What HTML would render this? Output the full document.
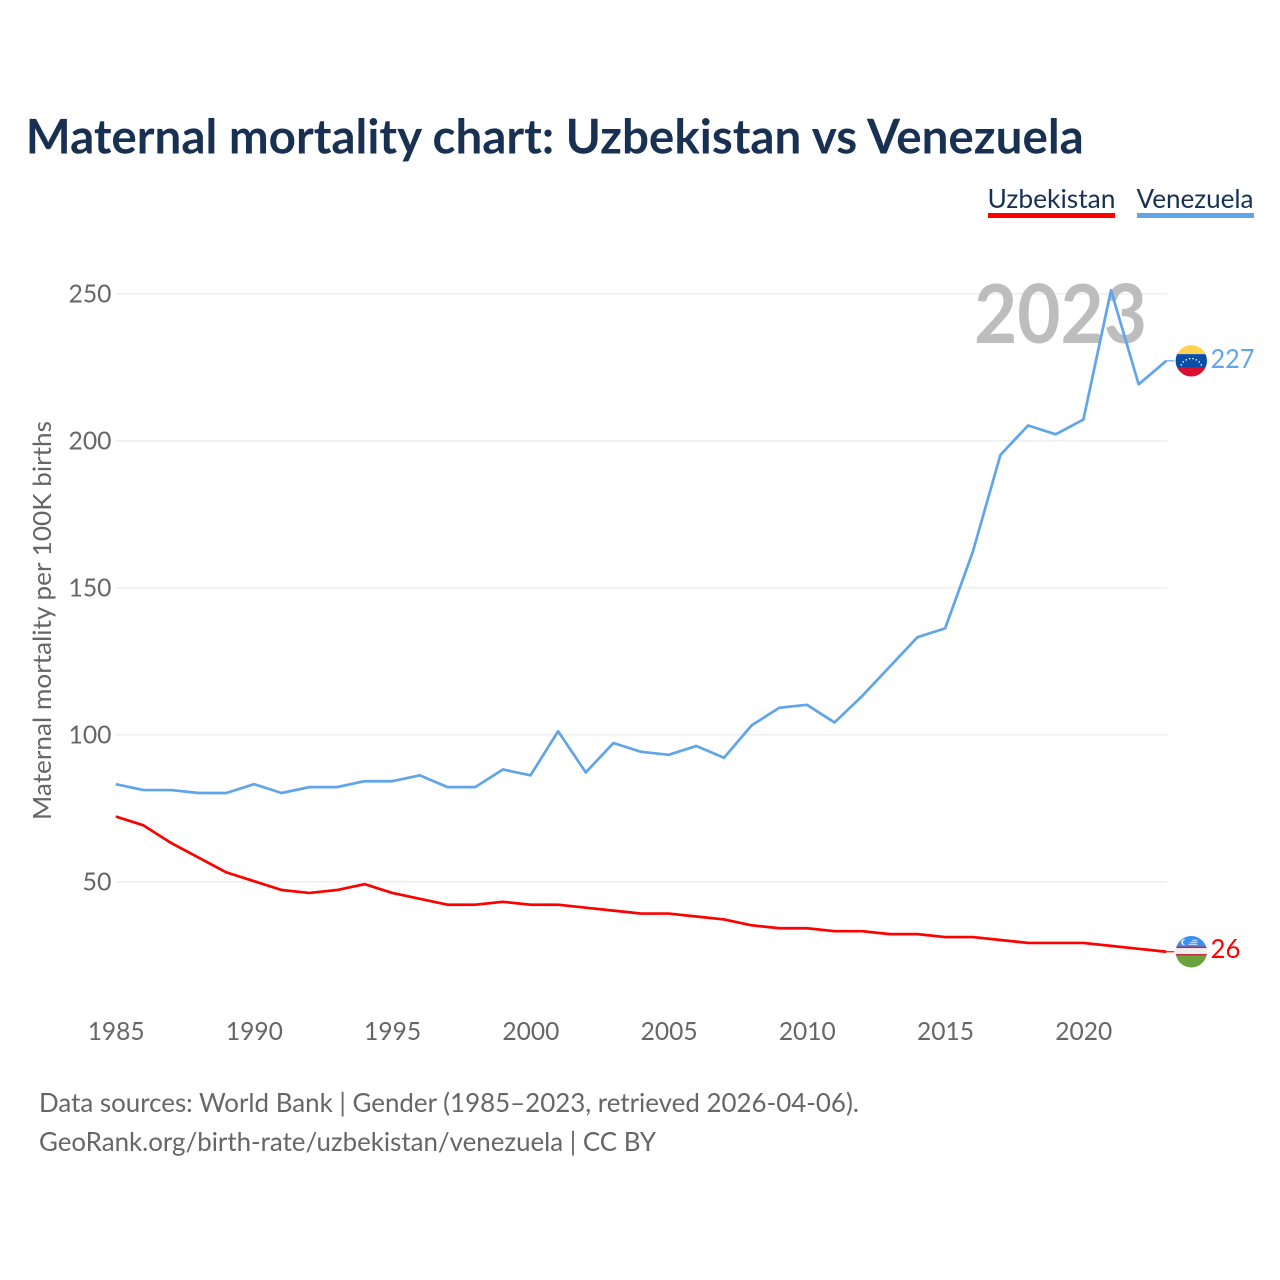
<!DOCTYPE html>
<html lang="en">
<head>
<meta charset="utf-8">
<title>Maternal mortality chart: Uzbekistan vs Venezuela</title>
<style>
html,body{margin:0;padding:0;background:#fff;}
svg{display:block;}
text{font-family:"Lato","Carlito","Liberation Sans",sans-serif;}
</style>
</head>
<body>
<svg id="chart" xmlns="http://www.w3.org/2000/svg" width="1280" height="1280" viewBox="0 0 1280 1280">
  <defs>
    <clipPath id="flag-clip"><circle cx="0" cy="0" r="15.7"/></clipPath>
  </defs>
  <rect x="0" y="0" width="1280" height="1280" fill="#fff"/>
  <text x="25.8" y="153.5" font-size="48.2" font-weight="700" fill="#183153" textLength="1058" lengthAdjust="spacingAndGlyphs">Maternal mortality chart: Uzbekistan vs Venezuela</text>

  <g id="grid"></g>
  <g id="yticks"></g>
  <g id="xticks"></g>

  <text transform="translate(51 820) rotate(-90)" x="0" y="0" font-size="25" fill="#666" textLength="399" lengthAdjust="spacingAndGlyphs">Maternal mortality per 100K births</text>
  <text x="974" y="343" font-size="81" font-weight="700" fill="#bdbdbd" textLength="173" lengthAdjust="spacingAndGlyphs">2023</text>

  <g id="series"></g>

  <g id="flag-venezuela">
    <g clip-path="url(#flag-clip)">
      <rect x="-16" y="-16" width="32" height="9.3" fill="#ffd24f"/>
      <rect x="-16" y="-6.7" width="32" height="13.4" fill="#0a4ea8"/>
      <rect x="-16" y="6.7" width="32" height="9.3" fill="#d80f2f"/>
      <g fill="#fff">
        <circle cx="-10" cy="4" r="0.8"/><circle cx="-8" cy="1" r="0.8"/><circle cx="-5" cy="-1" r="0.8"/><circle cx="-1.7" cy="-2.2" r="0.8"/><circle cx="1.7" cy="-2.2" r="0.8"/><circle cx="5" cy="-1" r="0.8"/><circle cx="8" cy="1" r="0.8"/><circle cx="10" cy="4" r="0.8"/>
      </g>
    </g>
  </g>
  <g id="flag-uzbekistan">
    <g clip-path="url(#flag-clip)">
      <rect x="-16" y="-16" width="32" height="11" fill="#3a8ff0"/>
      <rect x="-16" y="-5" width="32" height="9" fill="#eeeeee"/>
      <rect x="-16" y="-5.2" width="32" height="1.5" fill="#c8203c"/>
      <rect x="-16" y="2.3" width="32" height="1.5" fill="#c8203c"/>
      <rect x="-16" y="3.8" width="32" height="12.2" fill="#6aa33c"/>
      <circle cx="-7" cy="-9.5" r="3" fill="#fff"/>
      <circle cx="-5.8" cy="-9.5" r="2.6" fill="#3a8ff0"/>
      <g fill="#dbe9fb">
        <rect x="-3" y="-8" width="9" height="1"/><rect x="-1" y="-10" width="7" height="1"/><rect x="1" y="-12" width="5" height="1"/>
      </g>
    </g>
  </g>

  <text id="value-venezuela" x="1210.5" font-size="26" fill="#60a5ea"></text>
  <text id="value-uzbekistan" x="1210.5" font-size="26" fill="#ff0000"></text>

  <g>
    <g>
      <text x="987.5" y="208" font-size="26.3" fill="#183153" textLength="128" lengthAdjust="spacingAndGlyphs">Uzbekistan</text>
      <rect x="988" y="213" width="127" height="5" fill="#ff0000"/>
    </g>
    <g>
      <text x="1136.5" y="208" font-size="26.3" fill="#183153" textLength="117" lengthAdjust="spacingAndGlyphs">Venezuela</text>
      <rect x="1137" y="213" width="117" height="5" fill="#60a5ea"/>
    </g>
  </g>

  <text x="39" y="1112" font-size="26" fill="#666" textLength="820" lengthAdjust="spacingAndGlyphs">Data sources: World Bank | Gender (1985–2023, retrieved 2026-04-06).</text>
  <text x="39" y="1151" font-size="26" fill="#666" textLength="617" lengthAdjust="spacingAndGlyphs">GeoRank.org/birth-rate/uzbekistan/venezuela | CC BY</text>
</svg>
<script>
const startYear = 1985;
const uzbekistanValues = [72,69,63,58,53,50,47,46,47,49,46,44,42,42,43,42,42,41,40,39,39,38,37,35,34,34,33,33,32,32,31,31,30,29,29,29,28,27,26];
const venezuelaValues = [83,81,81,80,80,83,80,82,82,84,84,86,82,82,88,86,101,87,97,94,93,96,92,103,109,110,104,113,123,133,136,162,195,205,202,207,251,219,227];
const yTickValues = [50,100,150,200,250];
const xTickYears = [1985,1990,1995,2000,2005,2010,2015,2020];

const NS = 'http://www.w3.org/2000/svg';
const xScale = function (year) { return 115.8 + (year - 1985) * (1166.3 - 115.8) / 38; };
const yScale = function (v) { return 1028.2 - v * 2.94; };

function make(tag, parent, attrs, text) {
  const el = document.createElementNS(NS, tag);
  Object.keys(attrs).forEach(function (k) { el.setAttribute(k, attrs[k]); });
  if (text !== undefined) el.textContent = text;
  parent.appendChild(el);
  return el;
}

const gridGroup = document.getElementById('grid');
const yGroup = document.getElementById('yticks');
const xGroup = document.getElementById('xticks');
const seriesGroup = document.getElementById('series');

yTickValues.forEach(function (v) {
  const line = make('line', gridGroup, {x1: 116, x2: 1167, y1: yScale(v) + 0.6, y2: yScale(v) + 0.6, stroke: '#ececec', 'stroke-width': 1.4});
  
  
  const label = make('text', yGroup, {x: 111.5, y: yScale(v) + 9.3, 'text-anchor': 'end', 'font-size': 25, fill: '#666', textLength: 43, lengthAdjust: 'spacingAndGlyphs'}, String(v));
  if (v < 100) label.setAttribute('textLength', '29');
  
  
});

xTickYears.forEach(function (yr) {
  const label = make('text', xGroup, {x: xScale(yr) + 0.4, y: 1040, 'text-anchor': 'middle', 'font-size': 25, fill: '#666', textLength: 57, lengthAdjust: 'spacingAndGlyphs'}, String(yr));
  
  
});

function pathFor(values) {
  return values.map(function (v, i) {
    return (i ? 'L' : 'M') + xScale(startYear + i).toFixed(2) + ' ' + yScale(v).toFixed(2);
  }).join(' ');
}

const uzLine = make('path', seriesGroup, {d: pathFor(uzbekistanValues), fill: 'none', stroke: '#ff0000', 'stroke-width': 2.7, 'stroke-linejoin': 'round'});



const veLine = make('path', seriesGroup, {d: pathFor(venezuelaValues), fill: 'none', stroke: '#60a5ea', 'stroke-width': 2.7, 'stroke-linejoin': 'round'});



const lastX = xScale(startYear + venezuelaValues.length - 1);
const lastUz = uzbekistanValues[uzbekistanValues.length - 1];
const lastVe = venezuelaValues[venezuelaValues.length - 1];

const uzLead = make('line', seriesGroup, {x1: lastX, x2: lastX + 8, y1: yScale(lastUz), y2: yScale(lastUz), stroke: '#ff0000', 'stroke-width': 1.2});



const veLead = make('line', seriesGroup, {x1: lastX, x2: lastX + 8, y1: yScale(lastVe), y2: yScale(lastVe), stroke: '#60a5ea', 'stroke-width': 1.2});



document.getElementById('flag-venezuela').setAttribute('transform', 'translate(1191.3 ' + yScale(lastVe) + ')');
document.getElementById('flag-uzbekistan').setAttribute('transform', 'translate(1191.3 ' + yScale(lastUz) + ')');

const veLabel = document.getElementById('value-venezuela');
veLabel.textContent = String(lastVe);
veLabel.setAttribute('y', yScale(lastVe) + 7);
veLabel.setAttribute('textLength', '44');
veLabel.setAttribute('lengthAdjust', 'spacingAndGlyphs');

const uzLabel = document.getElementById('value-uzbekistan');
uzLabel.textContent = String(lastUz);
uzLabel.setAttribute('y', yScale(lastUz) + 6);
uzLabel.setAttribute('textLength', '30');
uzLabel.setAttribute('lengthAdjust', 'spacingAndGlyphs');
</script>
</body>
</html>
